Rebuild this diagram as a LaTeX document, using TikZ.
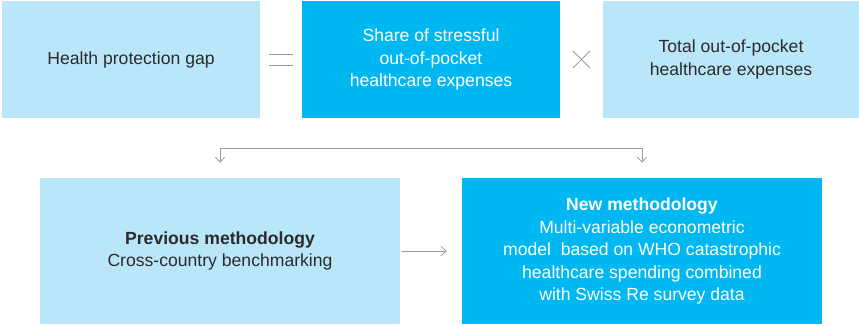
\documentclass[tikz,border=0pt]{standalone}
\usepackage{fontspec}
\setmainfont{Liberation Sans}
\usetikzlibrary{arrows.meta,positioning,calc}

\definecolor{paleblue}{HTML}{BAE6FA}
\definecolor{swissblue}{HTML}{00B8F1}
\definecolor{darktext}{HTML}{2B2B2B}
\definecolor{linegray}{HTML}{9A9A9A}

\tikzset{
  factorbox/.style={fill=paleblue, text=darktext, minimum width=258pt, minimum height=117pt,
    align=center, inner sep=0pt, font=\fontsize{17.6}{22.5}\selectfont},
  keybox/.style={factorbox, fill=swissblue, text=white},
  methodbox/.style={fill=paleblue, text=darktext, minimum width=360pt, minimum height=146pt,
    align=center, inner sep=0pt, font=\fontsize{17.6}{22.5}\selectfont},
  newbox/.style={methodbox, fill=swissblue, text=white},
  link/.style={draw=linegray, line width=0.8pt, -{Straight Barb[length=5pt,width=9pt]}},
  operator/.style={draw=linegray, line width=0.8pt}
}

\begin{document}
\begin{tikzpicture}[x=1pt, y=1pt]
    \useasboundingbox (0,0) rectangle (859,325);

    % Top row: gap = share x total
    \node[factorbox] (gap) at (131,265.5) {Health protection gap};
    \node[keybox] (share) at (431,265.5) {Share of stressful\\out-of-pocket\\healthcare expenses};
    \node[factorbox, minimum width=256pt] (total) at (731,265.5) {Total out-of-pocket\\healthcare expenses};

    % Equals and times signs
    \coordinate (eq) at ($(gap.east)!0.5!(share.west)$);
    \draw[operator] ([shift={(-12,5.5)}]eq) -- ([shift={(12,5.5)}]eq);
    \draw[operator] ([shift={(-12,-5.5)}]eq) -- ([shift={(12,-5.5)}]eq);
    \coordinate (times) at ($(share.east)!0.5!(total.west)$);
    \draw[operator] ([shift={(-8.5,-8.5)}]times) -- ([shift={(8.5,8.5)}]times);
    \draw[operator] ([shift={(-8.5,8.5)}]times) -- ([shift={(8.5,-8.5)}]times);

    % Bottom row: the two methodologies
    \node[methodbox] (prev) at (220,74) {\textbf{Previous methodology}\\Cross-country benchmarking};
    \node[newbox] (new) at (642,74) {\textbf{New methodology}\\Multi-variable econometric\\model\ \ based on WHO catastrophic\\healthcare spending combined\\with Swiss Re survey data};

    % Split connector down to both methods
    \coordinate (bus) at (431,177);
    \draw[link] (bus) -| ([yshift=15pt]prev.north);
    \draw[link] (bus) -| ([yshift=15pt]new.north);

    % Previous leads to new
    \draw[link] ([xshift=2pt]prev.east) -- ([xshift=-15pt]new.west);
\end{tikzpicture}
\end{document}
